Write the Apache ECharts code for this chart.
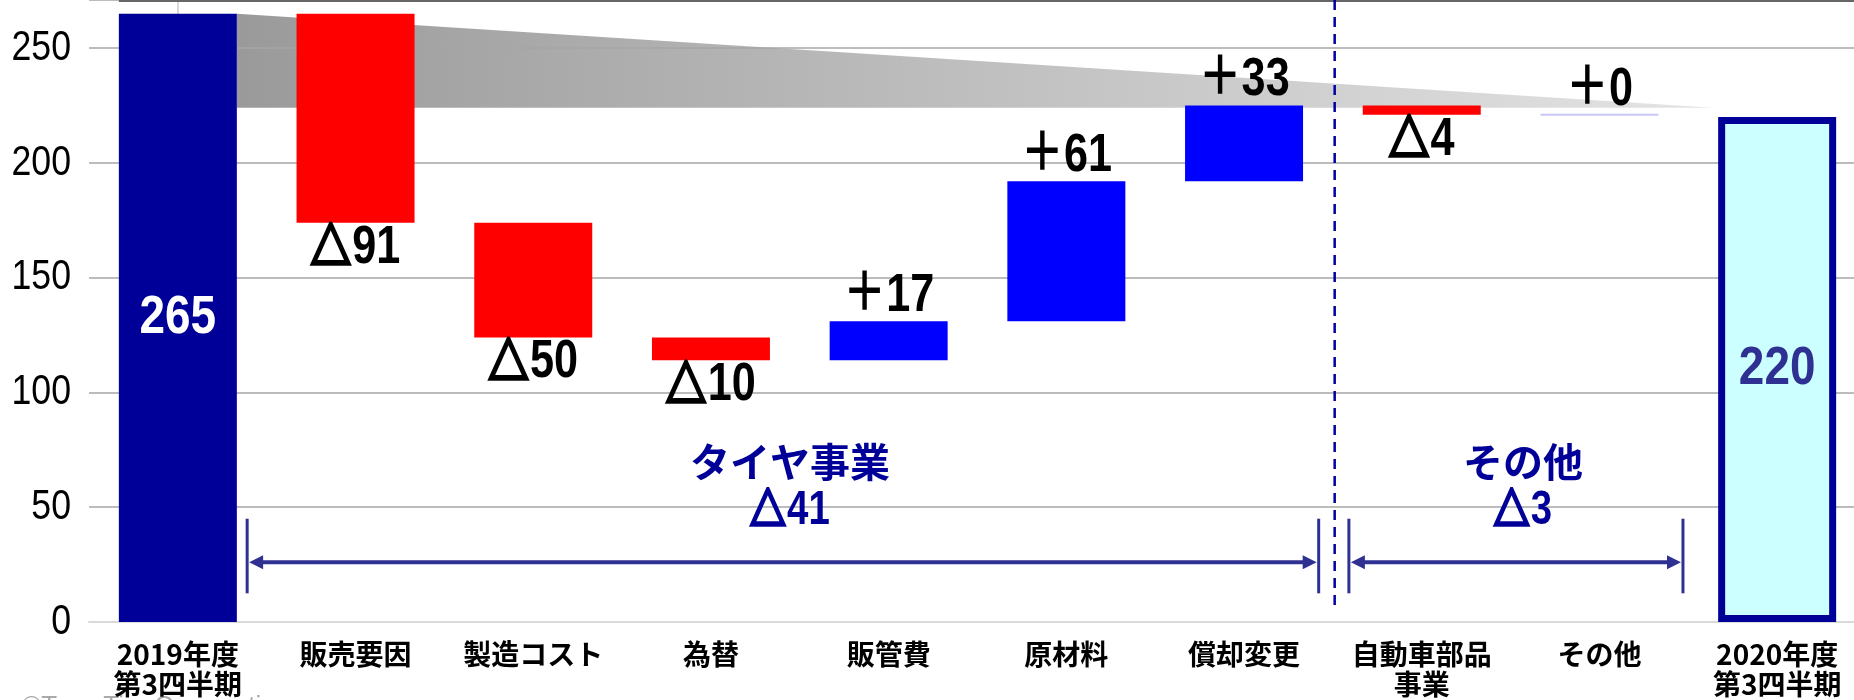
<!DOCTYPE html>
<html><head><meta charset="utf-8">
<script src="https://cdn.jsdelivr.net/npm/echarts@6/dist/echarts.min.js"></script>
<style>html,body{margin:0;padding:0;background:#fff}#c{width:1854px;height:700px}</style>
</head><body><div id="c"></div>
<script>
// ---- data ----
const categories = ['2019年度\n第3四半期','販売要因','製造コスト','為替','販管費','原材料','償却変更','自動車部品\n事業','その他','2020年度\n第3四半期'];
const startTotal = 265;
const endTotal = 220;
const deltas = [null, -91, -50, -10, 17, 61, 33, -4, 0, null];
const groupNames = ['タイヤ事業', 'その他'];
const groupTotals = [-41, -3];
const yTicks = [0, 50, 100, 150, 200, 250];

// ---- layout constants (not data) ----
const BAR_RATIO = 0.664;
const Y_MAX = 271;
const SHADE_BOTTOM = 224;
const groupSpans = [[0.39, 6.42], [6.59, 8.47]];
const DIVIDER_X = 6.51;
const NUMF = '"Liberation Sans","Noto Sans CJK JP",sans-serif';
const CJK = '"Noto Sans CJK JP",sans-serif';

const narrowText = (x, y, text, font, fill, align, sx) => ({
  type: 'text', x, y, scaleX: sx || 0.8, scaleY: 1,
  style: {text, font, fill, align: align || 'center', verticalAlign: 'middle'}
});
// change label: △ (decrease) / ＋ (increase), condensed look
const deltaText = (x, y, d, fs, fill) => ({
  type: 'text', x, y, scaleX: 0.8, scaleY: 1,
  style: {
    text: d < 0 ? '{t|△}' + Math.abs(d) : '＋' + d,
    fontSize: fs, fontWeight: 'bold', fontFamily: NUMF, fill,
    align: 'center', verticalAlign: 'middle',
    rich: {t: {fontSize: fs - 4, fontWeight: 'bold', fontFamily: CJK, fill, stroke: fill, lineWidth: 3.5,
      padding: [0, 2, 5, 0]}}
  }
});

// floating bars built from the deltas
const floatData = [];
let run = startTotal;
deltas.forEach((d, i) => {
  if (d === null) return;
  const next = run + d;
  floatData.push([i, Math.min(run, next), Math.max(run, next), d]);
  run = next;
});

const last = categories.length - 1;
const totalData = categories.map((c, i) => {
  if (i === 0) return {value: startTotal, itemStyle: {color: '#000099'}};
  if (i === last) return {value: endTotal,
    itemStyle: {color: '#CCFFFF', borderColor: '#000099', borderWidth: 7}};
  return '-';
});
const totalLabels = [[0, startTotal, '#FFFFFF'], [last, endTotal, '#2E3192']];

const chart = echarts.init(document.getElementById('c'), null, {renderer: 'canvas'});
chart.setOption({
  animation: false,
  backgroundColor: '#FFFFFF',
  grid: {left: 89, top: 0, width: 1777, height: 622, containLabel: false, outerBoundsMode: 'none'},
  xAxis: [{
    type: 'category', data: categories, boundaryGap: true,
    axisLine: {show: true, lineStyle: {color: '#D9D9D9', width: 2}},
    axisTick: {show: false},
    axisLabel: {interval: 0, fontSize: 28, lineHeight: 30, fontFamily: CJK, fontWeight: 'bold',
      color: '#000', margin: 17}
  }, {
    type: 'value', min: -0.5, max: 9.5, show: false, position: 'top'
  }],
  yAxis: {
    type: 'value', min: 0, max: Y_MAX, interval: 50,
    axisLine: {show: true, lineStyle: {color: '#D9D9D9', width: 2}},
    axisTick: {show: false},
    axisLabel: {show: false},
    splitLine: {show: true, lineStyle: {color: ['#D9D9D9','#A6A6A6','#A6A6A6','#A6A6A6','#A6A6A6','#A6A6A6','#A6A6A6'], width: 1.5}}
  },
  series: [
    { // gray shaded wedge behind everything
      type: 'custom', xAxisIndex: 1, z: -1, silent: true,
      data: [[0]],
      renderItem: (params, api) => {
        const xl = BAR_RATIO / 2, xr = categories.length - 1 - BAR_RATIO / 2 - 0.03;
        const p1 = api.coord([xl, startTotal]);
        const p2 = api.coord([xl, SHADE_BOTTOM]);
        const p3 = api.coord([xr, SHADE_BOTTOM]);
        return {type: 'polygon', shape: {points: [p1, p2, p3]},
          style: {fill: new echarts.graphic.LinearGradient(0, 0, 1, 0,
            [{offset: 0, color: '#9A9A9A'}, {offset: 1, color: '#E4E4E4'}])}};
      }
    },
    { // y tick labels (condensed look)
      type: 'custom', xAxisIndex: 1, z: 3, silent: true,
      encode: {x: 0, y: 1},
      data: yTicks.map(v => [-0.5, v]),
      renderItem: (params, api) => {
        const p = api.coord([api.value(0), api.value(1)]);
        return narrowText(p[0] - 18, p[1], String(api.value(1)), '42px ' + NUMF, '#000', 'right', 0.85);
      }
    },
    { // start / end totals
      type: 'bar', barWidth: (BAR_RATIO * 100) + '%', data: totalData, z: 2
    },
    { // total value labels
      type: 'custom', z: 4, silent: true,
      encode: {x: 0, y: 1},
      data: totalLabels,
      renderItem: (params, api) => {
        const i = api.value(0), v = api.value(1);
        const p = api.coord([i, v / 2]);
        return narrowText(p[0], p[1], String(v), 'bold 54px ' + NUMF, totalLabels[params.dataIndex][2], 'center', 0.85);
      }
    },
    { // floating delta bars
      type: 'custom', z: 2,
      encode: {x: 0, y: [1, 2]},
      data: floatData,
      renderItem: (params, api) => {
        const i = api.value(0), lo = api.value(1), hi = api.value(2), d = api.value(3);
        const bw = api.size([1, 0])[0] * BAR_RATIO;
        const top = api.coord([i, hi]), bot = api.coord([i, lo]);
        const h = bot[1] - top[1];
        const children = [];
        if (h < 1) {
          children.push({type: 'rect', shape: {x: top[0] - bw / 2, y: top[1] - 1, width: bw, height: 2},
            style: {fill: '#C8C8F8'}});
        } else {
          children.push({type: 'rect', shape: {x: top[0] - bw / 2, y: top[1], width: bw, height: h},
            style: {fill: d < 0 ? '#FF0000' : '#0000FF'}});
        }
        const ly = d < 0 ? bot[1] + 25 : top[1] - 25;
        children.push(deltaText(top[0], ly, d, 54, '#000'));
        return {type: 'group', children};
      }
    },
    { // annotations: brackets, divider, group totals, top rule
      type: 'custom', xAxisIndex: 1, z: 5, silent: true,
      data: [[0]],
      renderItem: (params, api) => {
        const col = '#2E3192';
        const ch = [];
        const t1 = api.coord([-BAR_RATIO / 2, Y_MAX]), t2 = api.coord([9.5, Y_MAX]);
        ch.push({type: 'line', shape: {x1: t1[0], y1: t1[1] + 1, x2: t2[0], y2: t2[1] + 1},
          style: {stroke: '#666666', lineWidth: 2}});
        const d1 = api.coord([DIVIDER_X, Y_MAX]), d2 = api.coord([DIVIDER_X, 6]);
        ch.push({type: 'line', shape: {x1: d1[0], y1: d1[1], x2: d2[0], y2: d2[1]},
          style: {stroke: '#0000A0', lineWidth: 2.5, lineDash: [10, 7]}});
        groupSpans.forEach((sp, k) => {
          const a = api.coord([sp[0], 26]), b = api.coord([sp[1], 26]);
          const vTop = api.coord([sp[0], 45])[1], vBot = api.coord([sp[0], 12.5])[1];
          ch.push({type: 'line', shape: {x1: a[0] + 10, y1: a[1], x2: b[0] - 10, y2: b[1]},
            style: {stroke: col, lineWidth: 4}});
          [a[0], b[0]].forEach(x => ch.push({type: 'line', shape: {x1: x, y1: vTop, x2: x, y2: vBot},
            style: {stroke: col, lineWidth: 3}}));
          ch.push({type: 'polygon', shape: {points: [[a[0] + 2, a[1]], [a[0] + 16, a[1] - 7], [a[0] + 16, a[1] + 7]]},
            style: {fill: col}});
          ch.push({type: 'polygon', shape: {points: [[b[0] - 2, b[1]], [b[0] - 16, b[1] - 7], [b[0] - 16, b[1] + 7]]},
            style: {fill: col}});
          const cx = (sp[0] + sp[1]) / 2 + 0.04;
          const n = api.coord([cx, 70]), v = api.coord([cx, 48.5]);
          ch.push({type: 'text', x: n[0], y: n[1], style: {text: groupNames[k], fill: '#000099',
            font: 'bold 40px ' + CJK, align: 'center', verticalAlign: 'middle'}});
          ch.push(deltaText(v[0], v[1], groupTotals[k], 48, '#000099'));
        });
        return {type: 'group', children: ch};
      }
    }
  ],
  graphic: [{type: 'text', left: 22, top: 694, silent: true,
    style: {text: '©Toyo Tire Corporation', fill: '#AAAAAA', font: '26px "Liberation Sans",sans-serif'}}]
});
</script>
</body></html>
